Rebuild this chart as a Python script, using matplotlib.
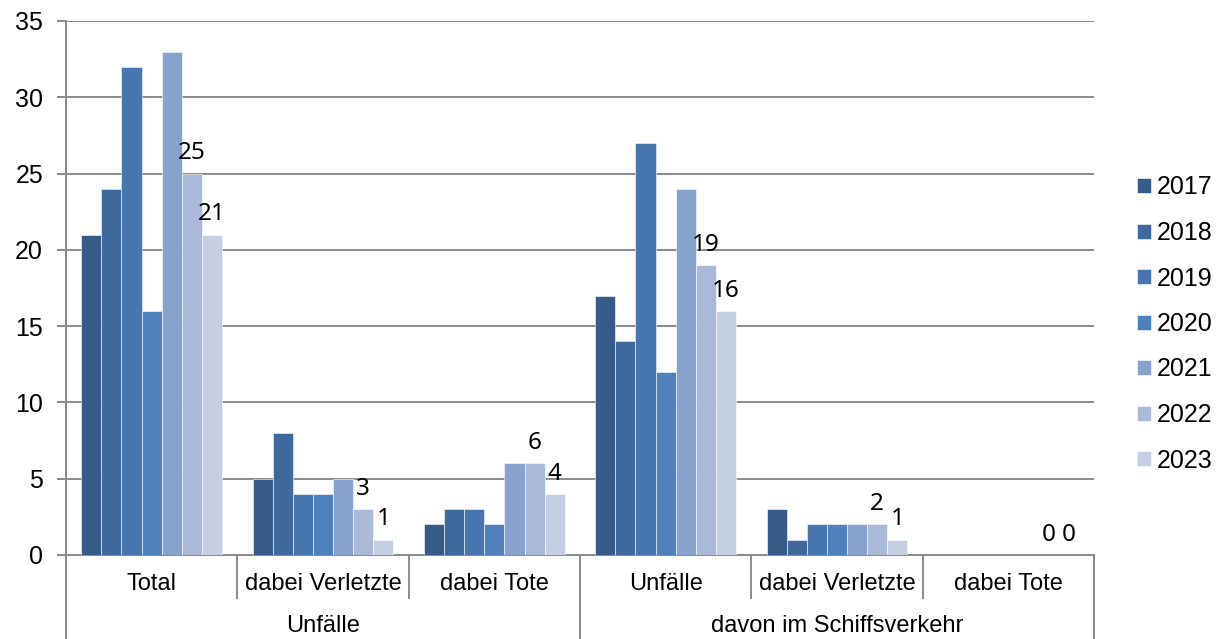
import numpy as np
import matplotlib
matplotlib.use("Agg")
import matplotlib.pyplot as plt

# Daten
kategorien = ["Total", "dabei Verletzte", "dabei Tote",
              "Unfälle", "dabei Verletzte", "dabei Tote"]
obergruppen = ["Unfälle", "davon im Schiffsverkehr"]
jahre = ["2017", "2018", "2019", "2020", "2021", "2022", "2023"]

w2017 = [21, 5, 2, 17, 3, 0]
w2018 = [24, 8, 3, 14, 1, 0]
w2019 = [32, 4, 3, 27, 2, 0]
w2020 = [16, 4, 2, 12, 2, 0]
w2021 = [33, 5, 6, 24, 2, 0]
w2022 = [25, 3, 6, 19, 2, 0]
w2023 = [21, 1, 4, 16, 1, 0]
werte = [w2017, w2018, w2019, w2020, w2021, w2022, w2023]

farben = ["#365b88", "#3f699c", "#4775ad", "#4f81bd",
          "#87a2cc", "#aab9d8", "#c4cfe2"]
mit_label = ["2022", "2023"]

grau = "#8a8a8a"
plt.rcParams["font.family"] = ["Liberation Sans", "DejaVu Sans"]

fig = plt.figure(figsize=(12.3, 6.39), dpi=100)
ax = fig.add_axes([66 / 1230, (639 - 555) / 639, 1028 / 1230, 534 / 639])

x = np.arange(len(kategorien))
breite = 0.1175
for i, (jahr, serie) in enumerate(zip(jahre, werte)):
    pos = x + (i - 3) * breite
    ax.bar(pos, serie, width=breite, color=farben[i], edgecolor="white",
           linewidth=0.4, label=jahr, zorder=3)
    if jahr in mit_label:
        for px, v in zip(pos, serie):
            ax.annotate(str(v), (px, v), xytext=(0, 6), textcoords="offset points",
                        ha="center", va="bottom", fontsize=17.5, family="Noto Sans")

ax.set_xlim(-0.5, len(kategorien) - 0.5)
ax.set_ylim(0, 35)
ax.set_yticks(range(0, 36, 5))
ax.yaxis.grid(True, color=grau, linewidth=1.4, zorder=0)
ax.tick_params(axis="y", direction="out", length=6.5, width=1.4, color=grau,
               labelsize=18, pad=10)
ax.set_xticks([])
for s in ["top", "right"]:
    ax.spines[s].set_visible(False)
for s in ["left", "bottom"]:
    ax.spines[s].set_color(grau)
    ax.spines[s].set_linewidth(1.4)

# Kategorienachse mit zwei Ebenen
trans = ax.get_xaxis_transform()
y_innen = (555 - 598) / 534
y_aussen = (555 - 639) / 534
for k, name in enumerate(kategorien):
    ax.text(k, (555 - 584) / 534, name, transform=trans, ha="center",
            va="center", fontsize=17)
for g in range(len(kategorien) + 1):
    unten = y_aussen if g % 3 == 0 else y_innen
    ax.plot([g - 0.5, g - 0.5], [0, unten], transform=trans, color=grau,
            linewidth=1.4, clip_on=False)
for j, name in enumerate(obergruppen):
    ax.text(3 * j + 1, (555 - 626) / 534, name, transform=trans, ha="center",
            va="center", fontsize=17)

fig.legend(loc="center left", bbox_to_anchor=(1137 / 1230, 1 - 324 / 639),
           frameon=False, fontsize=18, handlelength=0.56, handleheight=0.56,
           handletextpad=0.25, labelspacing=0.86, borderpad=0, borderaxespad=0)

fig.savefig("out.png", dpi=100)
